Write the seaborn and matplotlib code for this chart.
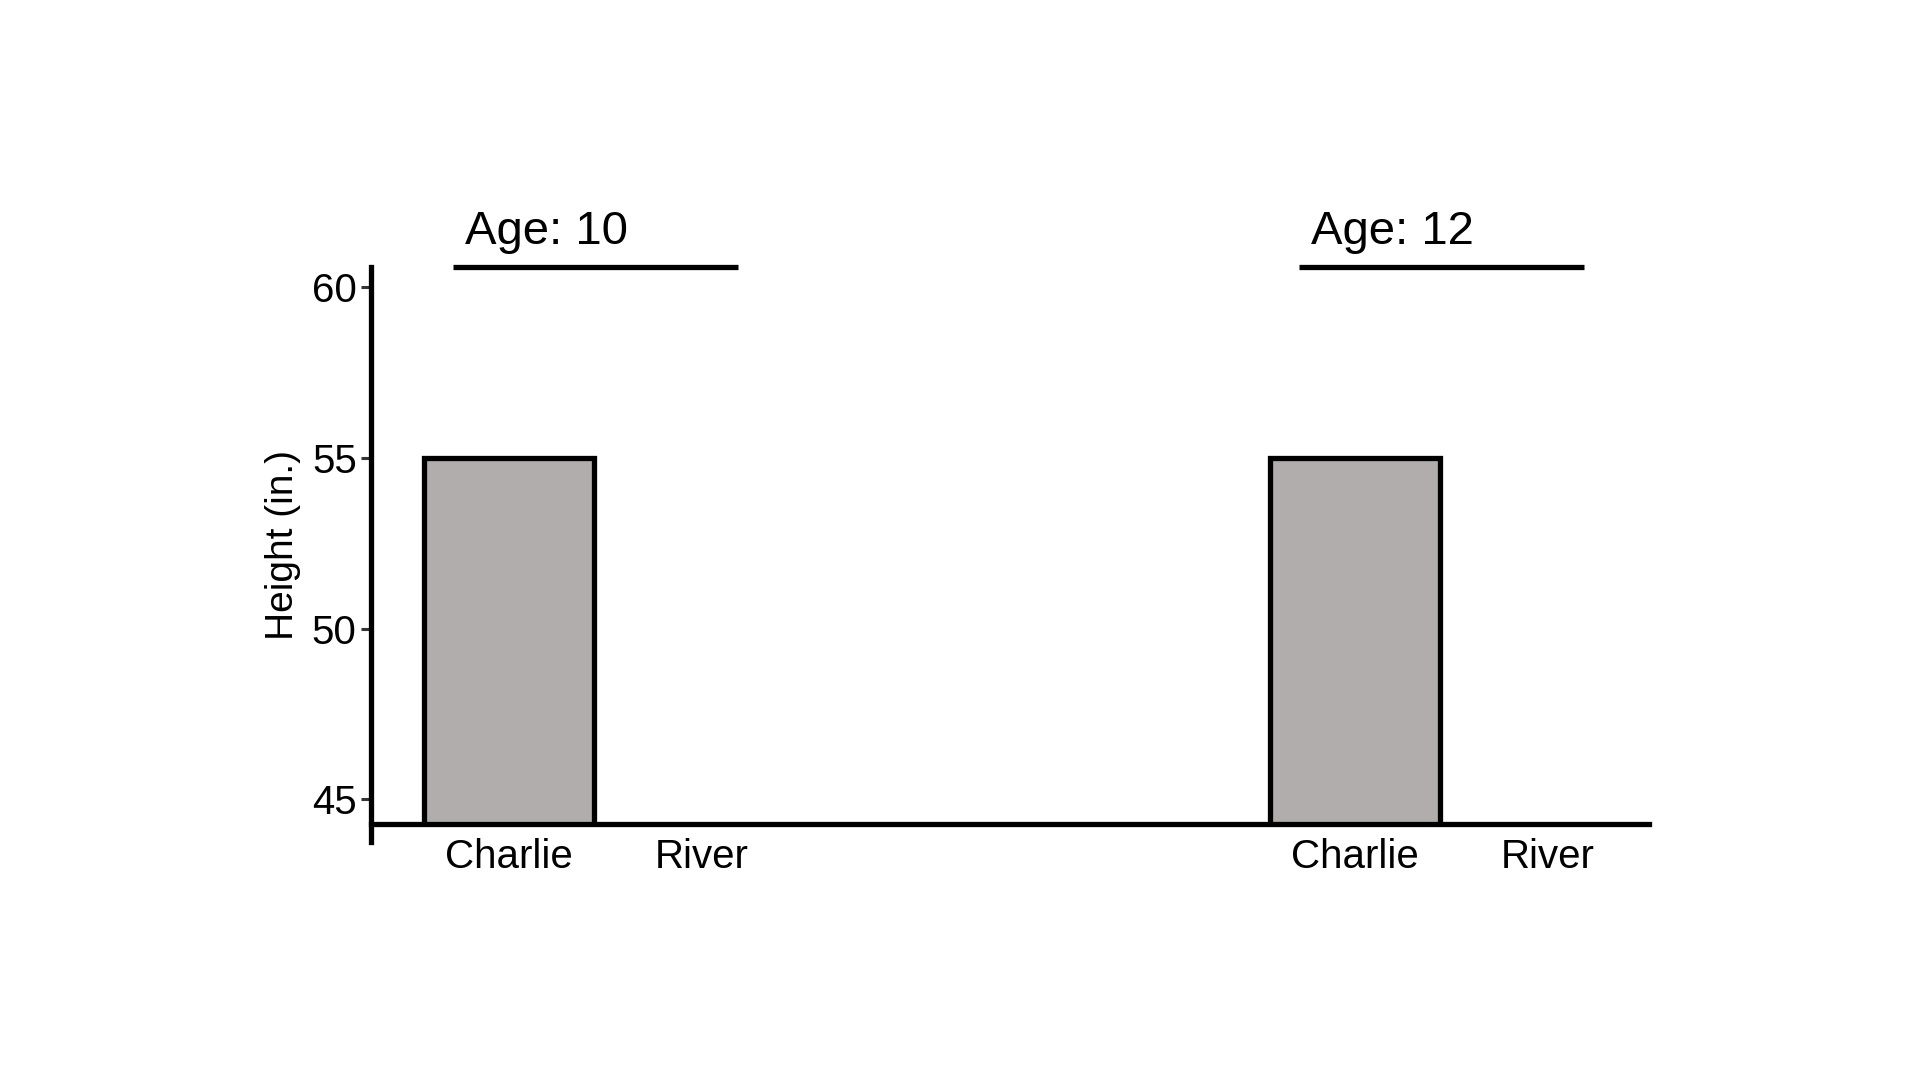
import numpy as np
import pandas as pd
import matplotlib
matplotlib.use("Agg")
import matplotlib.pyplot as plt
import seaborn as sns

# data
ages = [10, 12]
names = ["Charlie", "River"]
heights_age10 = [55, 44]
heights_age12 = [55, 44]

y_ticks = [45, 50, 55, 60]
y_bottom, y_top = 44.28, 60.6

group_gap = 4.4
rows = []
for g, (age, vals) in enumerate(zip(ages, [heights_age10, heights_age12])):
    for m, (name, h) in enumerate(zip(names, vals)):
        rows.append({"age": age, "name": name, "height": h, "pos": g * group_gap + m})
df = pd.DataFrame(rows)

sns.set_style("white", {"axes.edgecolor": "black", "text.color": "black",
                        "axes.labelcolor": "black", "xtick.color": "black",
                        "ytick.color": "black"})
plt.rcParams["font.family"] = ["Liberation Sans", "DejaVu Sans"]

fig = plt.figure(figsize=(19.2, 10.8), dpi=100)
ax = fig.add_axes([0.193, 0.237, 0.666, 0.516])

sns.barplot(data=df, x="pos", y="height", native_scale=True, color="#b0adac",
            saturation=1, edgecolor="black", linewidth=3.8, width=0.885,
            errorbar=None, ax=ax)

ax.set_xlim(-0.72, 5.93)
ax.set_ylim(y_bottom, y_top)
ax.set_yticks(y_ticks)
ax.set_xticks(df["pos"])
ax.set_xticklabels(df["name"])
ax.set_xlabel("")
ax.set_ylabel("Height (in.)", fontsize=28, labelpad=8)

for s in ["top", "right"]:
    ax.spines[s].set_visible(False)
ax.spines["left"].set_linewidth(3.8)
ax.spines["bottom"].set_linewidth(3.8)
ax.spines["left"].set_bounds(43.74, y_top)

ax.tick_params(axis="y", labelsize=29, length=7, width=2.2, color="#333333",
               labelcolor="black", pad=3, left=True)
ax.tick_params(axis="x", labelsize=29, length=0, pad=10, labelcolor="black")

# group headers
for g, age in enumerate(ages):
    center = g * group_gap + 0.45
    ax.plot([center - 0.74, center + 0.74], [y_top, y_top], color="black", lw=3.8,
            clip_on=False, solid_capstyle="butt")
    ax.text(center - 0.68, 61.62, f"Age: {age}", fontsize=34, va="center",
            ha="left", color="black")

fig.savefig("out.png", dpi=100)
